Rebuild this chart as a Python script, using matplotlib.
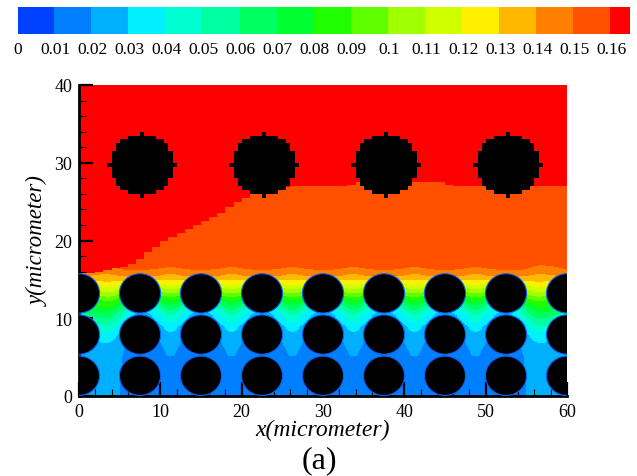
import numpy as np
import matplotlib
matplotlib.use("Agg")
import matplotlib.pyplot as plt
from matplotlib.colors import ListedColormap, BoundaryNorm
from matplotlib.patches import Ellipse

plt.rcParams['font.family'] = ['Liberation Serif', 'DejaVu Serif']

# colour bar
level_edges = [0, 0.01, 0.02, 0.03, 0.04, 0.05, 0.06, 0.07, 0.08, 0.09, 0.1,
               0.11, 0.12, 0.13, 0.14, 0.15, 0.16, 0.165]
level_labels = ['0', '0.01', '0.02', '0.03', '0.04', '0.05', '0.06', '0.07', '0.08',
                '0.09', '0.1', '0.11', '0.12', '0.13', '0.14', '0.15', '0.16']
band_colors = ['#0040ff', '#0080ff', '#00b0ff', '#00f0ff', '#00ffd0', '#00ffa0',
               '#00ff60', '#00ff30', '#20ff00', '#60ff00', '#a0ff00', '#d0ff00',
               '#fff000', '#ffb800', '#ff8000', '#ff5000', '#ff0000']

# concentration, columns are offsets inside one 7.5 wide cell
row_y = [0, 2.6, 5.25, 6.8, 7.9, 9.0, 10.55, 11.5, 12.5, 13.2, 14.4, 15.0, 15.7, 16.3, 17, 18, 40]
cell_x = [0, 2.5, 3.75, 5]
inner_cell = [
    [.012, .013, .014, .013],
    [.012, .012, .014, .012],
    [.012, .017, .0215, .017],
    [.013, .019, .025, .019],
    [.014, .022, .030, .022],
    [.017, .027, .037, .027],
    [.020, .038, .055, .038],
    [.030, .055, .070, .055],
    [.050, .078, .085, .078],
    [.070, .096, .100, .096],
    [.105, .117, .122, .117],
    [.135, .132, .130, .132],
    [.146, .142, .138, .142],
    [.151, .149, .147, .149],
    [.154, .153, .152, .153],
    [.155, .155, .155, .155],
    [.155, .155, .155, .155],
]
edge_cell = [
    [.024, .024, .024, .020],
    [.024, .024, .024, .020],
    [.024, .026, .027, .021],
    [.026, .029, .030, .023],
    [.030, .035, .037, .027],
    [.040, .047, .050, .035],
    [.055, .065, .068, .052],
    [.070, .080, .082, .068],
    [.085, .090, .095, .086],
    [.100, .105, .108, .101],
    [.120, .123, .125, .119],
    [.133, .133, .134, .132],
    [.144, .140, .139, .143],
    [.150, .146, .146, .150],
    [.153, .151, .151, .153],
    [.155, .155, .155, .155],
    [.155, .155, .155, .155],
]

# red / orange step boundary, one value per x unit
step_x = list(range(0, 61))
step_y = [15.8, 15.8, 16, 16.2, 16.4, 16.6, 17, 17.6, 18.5, 19.2, 20, 20.5, 21, 21.5, 22, 22.5, 23, 23.6, 24.3,
          24.9, 25.5, 26, 26.3, 26.5, 26.7, 26.9, 27, 27, 27, 27, 27, 27, 27, 27.2, 27.5, 27.5, 27.5, 27.5, 27.5, 27.5, 27.5,
          27.5, 27.5, 27.5, 27.5, 27.2, 27, 27, 27, 27, 27, 27, 27, 27, 27, 27, 27, 27, 27, 27, 27]

# solid obstacles
lower_x = [0, 7.5, 15, 22.5, 30, 37.5, 45, 52.5, 60]
lower_y = [2.6, 7.9, 13.2]
lower_r = 2.53
upper_x = [7.75, 22.75, 37.75, 52.75]
upper_y = 29.75
upper_r = 4.0


def build_field():
    inner = np.array(inner_cell)
    edge = np.array(edge_cell)
    xs = [*cell_x]
    cols = [edge]
    for k in range(1, 7):
        xs += [7.5 * k + c for c in cell_x]
        cols.append(inner)
    # right end mirrors the left wall cell
    xs += [52.5, 55, 56.25, 57.5, 60]
    cols.append(inner[:, :1])
    cols.append(edge[:, [3, 2, 1, 0]])
    return np.array(xs), np.array(row_y), np.hstack(cols)


def box_smooth(a, n):
    pad = np.pad(a, n // 2, mode='edge')
    return np.convolve(pad, np.ones(n) / n, mode='valid')


def resample(xs, ys, z):
    # table is coarse, resample so the contour bands come out round
    xf = np.arange(0, 60.01, 0.125)
    yf = np.arange(0, 40.01, 0.05)
    zx = np.array([np.interp(xf, xs, row) for row in z])
    zf = np.array([np.interp(yf, ys, col) for col in zx.T]).T
    zf = np.array([box_smooth(row, 11) for row in zf])
    zf = np.array([box_smooth(col, 9) for col in zf.T]).T
    return xf, yf, zf


def plot_field():
    fig = plt.figure(figsize=(6.37, 4.77), dpi=100)
    cmap = ListedColormap(band_colors)
    norm = BoundaryNorm(level_edges, cmap.N)

    ax_bar = fig.add_axes([18 / 637, 1 - 35 / 477, 612 / 637, 27 / 477])
    ax_bar.pcolormesh(level_edges, [0, 1], np.array(level_edges[:-1])[None, :] + 1e-4,
                      cmap=cmap, norm=norm, edgecolors='face', linewidth=0.3)
    ax_bar.set_xlim(0, 0.165)
    ax_bar.set_yticks([])
    ax_bar.set_xticks(level_edges[:-1], level_labels, fontsize=12.5)
    ax_bar.tick_params(axis='x', length=0, pad=5)
    for s in ax_bar.spines.values():
        s.set_visible(False)

    ax = fig.add_axes([79 / 637, 80 / 477, 488 / 637, 311 / 477])
    xs, ys, z = build_field()
    xf, yf, zf = resample(xs, ys, z)
    ax.contourf(xf, yf, zf, levels=level_edges, cmap=cmap, norm=norm)
    ax.fill_between(step_x, step_y, 40, step='post', color='#ff0000', lw=0)

    for cy in lower_y:
        for cx in lower_x:
            ax.add_patch(Ellipse((cx, cy), 2 * lower_r, 2 * lower_r, fc='black',
                                 ec='#1060f8', lw=0.8, zorder=3))

    # upper cylinders are blocky in the original mesh
    gx = np.arange(0, 60.5, 0.5)
    gy = np.arange(20, 40.5, 0.5)
    cx_mid = (gx[:-1] + gx[1:]) / 2
    cy_mid = (gy[:-1] + gy[1:]) / 2
    X, Y = np.meshgrid(cx_mid, cy_mid)
    solid = np.zeros_like(X, dtype=bool)
    for cx in upper_x:
        solid |= (X - cx) ** 2 + (Y - upper_y) ** 2 <= upper_r ** 2 + 1e-6
    ax.pcolormesh(gx, gy, np.ma.masked_where(~solid, solid.astype(float)),
                  cmap=ListedColormap(['black']), zorder=3)

    ax.set_xlim(0, 60)
    ax.set_ylim(0, 40)
    ax.set_xticks(range(0, 61, 10))
    ax.set_yticks(range(0, 41, 10))
    ax.set_xticks(range(0, 61, 2), minor=True)
    ax.set_yticks(range(0, 41, 2), minor=True)
    ax.tick_params(which='major', direction='in', length=10, width=1.6, labelsize=13, pad=5)
    ax.tick_params(which='minor', direction='in', length=5, width=0.8)
    ax.spines['top'].set_visible(False)
    ax.spines['right'].set_visible(False)
    ax.spines['left'].set_linewidth(2)
    ax.spines['bottom'].set_linewidth(2)
    ax.set_axisbelow(False)

    ax.set_xlabel('x(micrometer)', fontsize=17, style='italic', labelpad=-1)
    ax.set_ylabel('y(micrometer)', fontsize=16.5, style='italic', labelpad=4)
    fig.text(319 / 637, 1 - 461 / 477, '(a)', fontsize=23, ha='center', va='center')

    fig.savefig('out.png', dpi=100)


if __name__ == "__main__":
    plot_field()
